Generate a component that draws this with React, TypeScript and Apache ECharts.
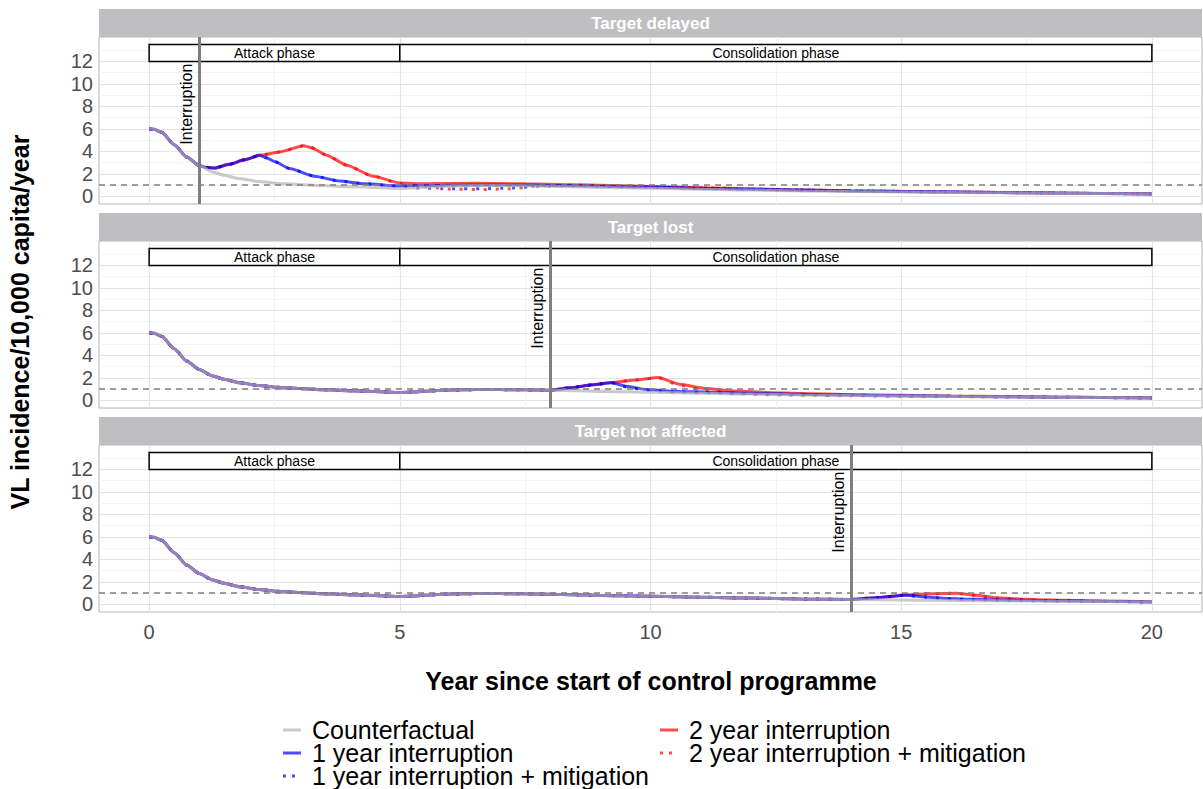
import React, { useEffect, useRef } from 'react';
import * as echarts from 'echarts';

// ---------- data ----------
const seriesNames = [
  'Counterfactual',
  '1 year interruption',
  '1 year interruption + mitigation',
  '2 year interruption',
  '2 year interruption + mitigation',
];
const panelTitles = ['Target delayed', 'Target lost', 'Target not affected'];
const interruptionYears = [1, 8, 14];
const phaseNames = ['Attack phase', 'Consolidation phase'];
const phaseStart = [0, 5];
const phaseEnd = [5, 20];
const phaseLow = 12;
const phaseHigh = 13.5;
const interruptionLabelY = 8.2;
const xTicks = [0, 5, 10, 15, 20];
const yTicks = [0, 2, 4, 6, 8, 10, 12];
const xMinorGrid = [2.5, 7.5, 12.5, 17.5];
const yMinorGrid = [1, 3, 5, 7, 9, 11, 13];
const threshold = 1;

const counterfactual: number[][] = [
  [0, 6.0], [0.1, 5.97], [0.25, 5.7], [0.5, 4.6], [0.75, 3.5], [1, 2.75], [1.25, 2.2],
  [1.5, 1.88], [1.8, 1.58], [2.2, 1.32], [2.5, 1.18], [3, 1.05], [3.5, 0.95], [4, 0.87],
  [4.5, 0.79], [5, 0.7], [5.25, 0.74], [5.5, 0.82], [6, 0.92], [6.5, 0.96], [7, 0.96],
  [7.5, 0.94], [8, 0.9], [8.5, 0.86], [9, 0.8], [10, 0.72], [11, 0.64], [12, 0.56],
  [13, 0.49], [14, 0.43], [15, 0.39], [16, 0.35], [17, 0.32], [18, 0.28], [19, 0.25], [20, 0.22],
];

// Panel 1: Target delayed (values from the interruption onwards)
const p1OneYear: number[][] = [
  [1, 2.75], [1.15, 2.56], [1.3, 2.52], [1.6, 2.85], [1.9, 3.25], [2.2, 3.65], [2.35, 3.42],
  [2.5, 3.1], [2.8, 2.48], [3.3, 1.8], [3.8, 1.36], [4.3, 1.12], [5, 0.93], [5.5, 0.95],
  [6.5, 1.02], [7.5, 1.01], [8.5, 0.95], [10, 0.83], [11, 0.73], [12, 0.63], [13, 0.56],
  [14, 0.49], [15, 0.43], [16, 0.39], [17, 0.34], [18, 0.3], [19, 0.26], [20, 0.22],
];
const p1OneYearMit: number[][] = [
  [1, 2.75], [1.15, 2.56], [1.3, 2.52], [1.6, 2.85], [1.9, 3.25], [2.2, 3.65], [2.35, 3.42],
  [2.5, 3.1], [2.8, 2.48], [3.3, 1.8], [3.8, 1.36], [4.3, 1.12], [5, 0.9], [5.4, 0.74],
  [6, 0.68], [6.6, 0.67], [7.2, 0.74], [7.8, 0.92], [8.5, 0.95], [10, 0.83], [11, 0.73],
  [12, 0.63], [13, 0.56], [14, 0.49], [15, 0.43], [16, 0.39], [17, 0.34], [18, 0.3], [19, 0.26], [20, 0.22],
];
const p1TwoYear: number[][] = [
  [1, 2.75], [1.15, 2.56], [1.3, 2.52], [1.6, 2.85], [1.9, 3.25], [2.2, 3.65], [2.6, 3.95],
  [3.08, 4.5], [3.22, 4.36], [3.54, 3.67], [3.94, 2.78], [4.47, 1.79], [5, 1.19], [5.5, 1.12],
  [6.5, 1.16], [7.5, 1.12], [8.5, 1.03], [10, 0.89], [11, 0.78], [12, 0.67], [13, 0.58],
  [14, 0.51], [15, 0.45], [16, 0.4], [17, 0.35], [18, 0.3], [19, 0.26], [20, 0.23],
];
const p1TwoYearMit: number[][] = [
  [1, 2.75], [1.15, 2.56], [1.3, 2.52], [1.6, 2.85], [1.9, 3.25], [2.2, 3.65], [2.6, 3.95],
  [3.08, 4.5], [3.22, 4.36], [3.54, 3.67], [3.94, 2.78], [4.47, 1.79], [5, 1.15], [5.4, 0.9],
  [6, 0.66], [6.6, 0.6], [7.2, 0.68], [7.8, 0.95], [8.5, 1.0], [10, 0.87], [11, 0.77],
  [12, 0.66], [13, 0.58], [14, 0.51], [15, 0.45], [16, 0.4], [17, 0.35], [18, 0.3], [19, 0.26], [20, 0.23],
];

// Panel 2: Target lost
const p2OneYear: number[][] = [
  [8, 0.9], [8.4, 1.13], [8.86, 1.4], [9.22, 1.58], [9.52, 1.26], [9.92, 0.97], [10.4, 0.82],
  [11.4, 0.7], [12, 0.63], [13, 0.54], [14, 0.47], [15, 0.42], [16, 0.37], [17, 0.33],
  [18, 0.29], [19, 0.26], [20, 0.22],
];
const p2OneYearMit: number[][] = [
  [8, 0.9], [8.4, 1.13], [8.86, 1.4], [9.22, 1.58], [9.52, 1.2], [9.92, 0.9], [10.4, 0.76],
  [11.4, 0.66], [12, 0.6], [13, 0.52], [14, 0.46], [15, 0.41], [16, 0.37], [17, 0.33],
  [18, 0.29], [19, 0.25], [20, 0.22],
];
const p2TwoYear: number[][] = [
  [8, 0.9], [8.4, 1.13], [8.86, 1.4], [9.22, 1.6], [9.7, 1.82], [10.15, 2.03], [10.58, 1.43],
  [11.12, 1.05], [11.65, 0.83], [12.45, 0.69], [13, 0.61], [14, 0.51], [15, 0.45], [16, 0.39],
  [17, 0.35], [18, 0.3], [19, 0.26], [20, 0.23],
];
const p2TwoYearMit: number[][] = [
  [8, 0.9], [8.4, 1.13], [8.86, 1.4], [9.22, 1.6], [9.7, 1.82], [10.15, 2.03], [10.58, 1.35],
  [11.12, 0.86], [11.65, 0.62], [12.45, 0.5], [13, 0.46], [14, 0.42], [15, 0.38], [16, 0.35],
  [17, 0.31], [18, 0.28], [19, 0.25], [20, 0.21],
];

// Panel 3: Target not affected
const p3OneYear: number[][] = [
  [14, 0.43], [14.5, 0.6], [15.1, 0.82], [15.5, 0.66], [15.9, 0.53], [16.5, 0.45], [17, 0.4],
  [18, 0.33], [19, 0.27], [20, 0.22],
];
const p3OneYearMit: number[][] = [
  [14, 0.43], [14.5, 0.6], [15.1, 0.82], [15.5, 0.62], [15.9, 0.5], [16.5, 0.42], [17, 0.37],
  [18, 0.31], [19, 0.26], [20, 0.21],
];
const p3TwoYear: number[][] = [
  [14, 0.43], [14.5, 0.6], [15.1, 0.84], [15.6, 0.95], [16.1, 1.0], [16.5, 0.82], [16.9, 0.6],
  [17.5, 0.46], [18, 0.39], [19, 0.3], [20, 0.24],
];
const p3TwoYearMit: number[][] = [
  [14, 0.43], [14.5, 0.6], [15.1, 0.84], [15.6, 0.95], [16.1, 1.0], [16.5, 0.78], [16.9, 0.55],
  [17.5, 0.42], [18, 0.36], [19, 0.28], [20, 0.22],
];

const panelCurves = [
  [p1OneYear, p1OneYearMit, p1TwoYear, p1TwoYearMit],
  [p2OneYear, p2OneYearMit, p2TwoYear, p2TwoYearMit],
  [p3OneYear, p3OneYearMit, p3TwoYear, p3TwoYearMit],
];

// ---------- styling ----------
const FONT = '"Liberation Sans", Arial, Helvetica, sans-serif';
const GRID_LEFT = 99;
const GRID_WIDTH = 1103;
const PANEL_TOPS = [37, 241, 445];
const PANEL_H = 167;
const STRIP_H = 28;
const X_MIN = -1, X_MAX = 21;
const Y_MIN = -0.675, Y_MAX = 14.175;

const GREY = '#b3b3b3';
const BLUE = '#0000ff';
const RED = '#ff0000';
const LINE_ALPHA = 0.7;

const solidIcon = 'path://M0,0H18V3H0ZM24,0L24,0';
const dottedIcon = 'path://M0,0H3V3H0ZM9,0H12V3H9ZM24,0L24,0';

// legend slots: [left, rowCentre]
const legendSlots: number[][] = [
  [283, 729], [283, 752], [283, 775], [660, 729], [660, 752],
];

function buildOption() {
  const grids: any[] = [];
  const xAxes: any[] = [];
  const yAxes: any[] = [];
  const series: any[] = [];
  const graphics: any[] = [];

  PANEL_TOPS.forEach((top, i) => {
    grids.push({
      left: GRID_LEFT, top, width: GRID_WIDTH, height: PANEL_H,
      show: true, borderColor: '#b3b3b3', borderWidth: 1, backgroundColor: '#ffffff',
    });
    const isBottom = i === PANEL_TOPS.length - 1;
    xAxes.push({
      gridIndex: i, type: 'value', min: X_MIN, max: X_MAX,
      axisLine: { show: false },
      axisTick: { show: isBottom, length: 4, lineStyle: { color: '#b3b3b3' }, customValues: xTicks },
      axisLabel: { show: isBottom, customValues: xTicks, fontSize: 20, color: '#4d4d4d', margin: 10, fontFamily: FONT },
      splitLine: { show: false },
    });
    yAxes.push({
      gridIndex: i, type: 'value', min: Y_MIN, max: Y_MAX,
      axisLine: { show: false },
      axisTick: { show: true, length: 4, lineStyle: { color: '#b3b3b3' }, customValues: yTicks },
      axisLabel: { customValues: yTicks, fontSize: 20, color: '#4d4d4d', margin: 6, fontFamily: FONT },
      splitLine: { show: false },
    });

    // gridlines
    series.push({
      type: 'line', xAxisIndex: i, yAxisIndex: i, data: [], silent: true, z: 1,
      markLine: {
        z: 1, silent: true, symbol: ['none', 'none'], label: { show: false }, animation: false,
        lineStyle: { type: 'solid' },
        data: [
          ...xMinorGrid.map((v) => ({ xAxis: v, lineStyle: { color: '#f3f3f3', width: 1, type: 'solid' } })),
          ...yMinorGrid.map((v) => ({ yAxis: v, lineStyle: { color: '#f3f3f3', width: 1, type: 'solid' } })),
          ...xTicks.map((v) => ({ xAxis: v, lineStyle: { color: '#e4e4e4', width: 1.2, type: 'solid' } })),
          ...yTicks.map((v) => ({ yAxis: v, lineStyle: { color: '#e4e4e4', width: 1.2, type: 'solid' } })),
        ],
      },
    });

    const cut = interruptionYears[i];
    const prefix = counterfactual.filter((p) => p[0] < cut);
    const [one, oneMit, two, twoMit] = panelCurves[i];
    const mk = (name: string, data: number[][], color: string, dotted: boolean) => ({
      type: 'line', name, xAxisIndex: i, yAxisIndex: i, data,
      showSymbol: false, symbol: 'none', smooth: 0.2, smoothMonotone: 'x', z: 2, silent: true,
      itemStyle: { color, opacity: LINE_ALPHA },
      lineStyle: { color, width: 3, opacity: LINE_ALPHA, type: dotted ? [3, 9] : 'solid' },
    });
    series.push(mk(seriesNames[3], prefix.concat(two), RED, false));
    series.push(mk(seriesNames[4], prefix.concat(twoMit), RED, true));
    series.push(mk(seriesNames[1], prefix.concat(one), BLUE, false));
    series.push(mk(seriesNames[2], prefix.concat(oneMit), BLUE, true));
    series.push(mk(seriesNames[0], counterfactual, GREY, false));

    // phase boxes
    series.push({
      type: 'line', xAxisIndex: i, yAxisIndex: i, data: [], silent: true, z: 3,
      markArea: {
        z: 3, silent: true,
        itemStyle: { color: '#ffffff', opacity: 1, borderColor: '#000000', borderWidth: 1.5 },
        label: { show: true, position: 'inside', color: '#000', fontSize: 14, fontFamily: FONT },
        data: phaseNames.map((n, k) => [
          { name: n, xAxis: phaseStart[k], yAxis: phaseLow },
          { xAxis: phaseEnd[k], yAxis: phaseHigh },
        ]),
      },
    });
    // reference lines and label
    series.push({
      type: 'line', xAxisIndex: i, yAxisIndex: i, data: [], silent: true, z: 4,
      markLine: {
        z: 4, silent: true, symbol: ['none', 'none'], label: { show: false }, animation: false,
        data: [
          { yAxis: threshold, lineStyle: { color: '#7f7f7f', width: 1.5, type: [6, 5] } },
          { xAxis: cut, lineStyle: { color: '#7f7f7f', width: 3, type: 'solid' } },
        ],
      },
      markPoint: {
        z: 5, silent: true, symbol: 'circle', symbolSize: 0, animation: false,
        itemStyle: { color: 'transparent' },
        data: [{
          coord: [cut, interruptionLabelY],
          label: {
            show: true, position: 'inside', formatter: 'Interruption', rotate: 90,
            color: '#000', fontSize: 16, fontFamily: FONT, offset: [0, -13],
          },
        }],
      },
    });

    // strip
    graphics.push({
      type: 'rect', silent: true,
      shape: { x: GRID_LEFT, y: top - STRIP_H, width: GRID_WIDTH, height: STRIP_H },
      style: { fill: '#bfbfc1' },
    });
    graphics.push({
      type: 'text', silent: true, x: GRID_LEFT + GRID_WIDTH / 2, y: top - STRIP_H / 2,
      style: {
        text: panelTitles[i], fill: '#ffffff', font: `bold 17px ${FONT}`,
        textAlign: 'center', textVerticalAlign: 'middle', align: 'center', verticalAlign: 'middle',
      },
    });
  });

  graphics.push({
    type: 'text', silent: true, x: 651, y: 681,
    style: {
      text: 'Year since start of control programme', fill: '#000', font: `bold 25px ${FONT}`,
      textAlign: 'center', textVerticalAlign: 'middle', align: 'center', verticalAlign: 'middle',
    },
  });
  graphics.push({
    type: 'text', silent: true, x: 20, y: 322, rotation: Math.PI / 2,
    style: {
      text: 'VL incidence/10,000 capita/year', fill: '#000', font: `bold 25px ${FONT}`,
      textAlign: 'center', textVerticalAlign: 'middle', align: 'center', verticalAlign: 'middle',
    },
  });

  const legends = seriesNames.map((name, k) => ({
    orient: 'horizontal', left: legendSlots[k][0], top: legendSlots[k][1] - 11.5,
    itemGap: 0, itemWidth: 24, itemHeight: 14, padding: 0, selectedMode: false,
    textStyle: { fontSize: 25, color: '#000', fontFamily: FONT, lineHeight: 23 },
    data: [{ name, icon: name.indexOf('mitigation') >= 0 ? dottedIcon : solidIcon }],
  }));

  return {
    animation: false,
    backgroundColor: '#ffffff',
    grid: grids,
    xAxis: xAxes,
    yAxis: yAxes,
    series,
    graphic: graphics,
    legend: legends,
  };
}

export default function App() {
  const ref = useRef<HTMLDivElement>(null);
  useEffect(() => {
    document.body.style.margin = '0';
    document.body.style.overflow = 'hidden';
    if (!ref.current) return;
    const chart = echarts.init(ref.current, undefined, { renderer: 'svg' });
    chart.setOption(buildOption() as any);
    return () => chart.dispose();
  }, []);
  return <div ref={ref} style={{ width: 1203, height: 789 }} />;
}
